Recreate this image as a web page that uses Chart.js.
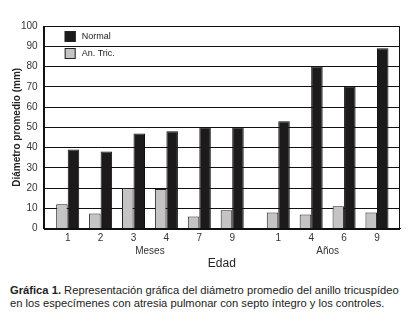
<!DOCTYPE html>
<html lang="es">
<head>
    <meta charset="UTF-8">
    <title>Diámetro promedio del anillo tricuspídeo</title>
    <script src="https://cdn.jsdelivr.net/npm/chart.js"></script>
    <style>
        body {
            margin: 0;
            background: #fff;
            font-family: "Liberation Sans", Arial, sans-serif;
        }
        #wrap {
            position: relative;
            width: 418px;
            height: 321px;
        }
        #chartBox {
            position: absolute;
            left: 0;
            top: 0;
            width: 418px;
            height: 275px;
        }
        #caption {
            position: absolute;
            left: 10px;
            top: 284px;
            width: 400px;
            font-size: 11.2px;
            line-height: 13px;
            color: #222;
        }
    </style>
</head>
<body>
<div id="wrap">
    <div id="chartBox"><canvas id="grafica"></canvas></div>
    <div id="caption"><b>Gráfica 1.</b> Representación gráfica del diámetro promedio del anillo tricuspídeo<br>en los especímenes con atresia pulmonar con septo íntegro y los controles.</div>
</div>

<script>
    // edades (etiquetas del eje x) agrupadas en meses y años
    const edadMeses = ['1', '2', '3', '4', '7', '9'];
    const edadAnos = ['1', '4', '6', '9'];
    const grupos = ['Meses', 'Años'];

    // diámetro promedio (mm)
    const normal = [39, 38, 47, 48, 50, 50, 53, 80, 70, 89];
    const anTric = [12, 7.5, 20, 19.5, 6, 9, 8, 7, 11, 8];

    const yTicks = [0, 10, 20, 30, 40, 50, 60, 70, 80, 90, 100];

    // posiciones en el eje: un hueco entre meses y años
    const hueco = 0.4;
    const etiquetas = edadMeses.concat(edadAnos);
    const posiciones = etiquetas.map((e, i) => i < edadMeses.length ? i : i + hueco);

    const puntos = serie => serie.map((v, i) => ({ x: posiciones[i], y: v }));

    const fuente = '"Liberation Sans", Arial, sans-serif';

    // borde completo del area de trazado
    const marcoPlugin = {
        id: 'marco',
        afterDatasetsDraw(chart) {
            const a = chart.chartArea;
            const ctx = chart.ctx;
            ctx.save();
            ctx.strokeStyle = '#111';
            ctx.lineWidth = 1;
            ctx.strokeRect(Math.round(a.left) + 0.5, Math.round(a.top) + 0.5,
                Math.round(a.right - a.left) - 1, Math.round(a.bottom - a.top));
            ctx.restore();
        }
    };

    // leyenda dentro del area de trazado (Normal arriba)
    const leyendaPlugin = {
        id: 'leyenda',
        afterDatasetsDraw(chart) {
            const a = chart.chartArea;
            const ctx = chart.ctx;
            const items = chart.data.datasets.slice().reverse();
            ctx.save();
            ctx.font = '9px ' + fuente;
            ctx.textBaseline = 'middle';
            items.forEach((ds, i) => {
                const x = a.left + 21;
                const y = a.top + 5 + i * 17;
                ctx.fillStyle = ds.backgroundColor;
                ctx.fillRect(x, y, 11, 11);
                ctx.strokeStyle = '#222';
                ctx.lineWidth = 1;
                ctx.strokeRect(x + 0.5, y + 0.5, 10, 10);
                ctx.fillStyle = '#222';
                ctx.fillText(ds.label, x + 17, y + 6);
            });
            ctx.restore();
        }
    };

    // etiquetas de grupo (Meses / Años) bajo las edades
    const gruposPlugin = {
        id: 'grupos',
        afterDraw(chart) {
            const xs = chart.scales.x;
            const ctx = chart.ctx;
            const rangos = [
                [posiciones[0], posiciones[edadMeses.length - 1]],
                [posiciones[edadMeses.length], posiciones[posiciones.length - 1]]
            ];
            ctx.save();
            ctx.font = '10px ' + fuente;
            ctx.fillStyle = '#333';
            ctx.textAlign = 'center';
            ctx.textBaseline = 'middle';
            rangos.forEach((r, i) => {
                const px = (xs.getPixelForValue(r[0]) + xs.getPixelForValue(r[1])) / 2;
                ctx.fillText(grupos[i], px, chart.chartArea.bottom + 23);
            });
            ctx.restore();
        }
    };

    const ctx = document.getElementById('grafica').getContext('2d');
    new Chart(ctx, {
        type: 'bar',
        data: {
            datasets: [
                {
                    label: 'An. Tric.',
                    data: puntos(anTric),
                    backgroundColor: '#c4c4c4',
                    borderColor: '#222',
                    borderWidth: 1,
                    categoryPercentage: 0.7,
                    barPercentage: 1
                },
                {
                    label: 'Normal',
                    data: puntos(normal),
                    backgroundColor: '#1c1a1b',
                    borderColor: '#111',
                    borderWidth: 1,
                    categoryPercentage: 0.7,
                    barPercentage: 1
                }
            ]
        },
        options: {
            responsive: true,
            maintainAspectRatio: false,
            animation: false,
            layout: {
                padding: { left: 6, right: 18, top: 26, bottom: 4 }
            },
            scales: {
                x: {
                    type: 'linear',
                    offset: false,
                    min: -0.73,
                    max: 10.1,
                    grid: { display: false, drawTicks: false, offset: false },
                    border: { display: true, color: '#111' },
                    afterBuildTicks(scale) {
                        scale.ticks = posiciones.map(v => ({ value: v }));
                    },
                    ticks: {
                        autoSkip: false,
                        maxRotation: 0,
                        padding: 4,
                        color: '#333',
                        font: { size: 10, family: fuente },
                        callback: (value, index) => etiquetas[index]
                    },
                    title: {
                        display: true,
                        text: 'Edad',
                        color: '#222',
                        padding: { top: 8, bottom: 0 },
                        font: { size: 12, family: fuente }
                    }
                },
                y: {
                    min: 0,
                    max: 100,
                    afterBuildTicks(scale) {
                        scale.ticks = yTicks.map(v => ({ value: v }));
                    },
                    grid: { color: '#111', lineWidth: 1, drawTicks: false },
                    border: { display: true, color: '#111' },
                    ticks: {
                        padding: 6,
                        color: '#333',
                        font: { size: 10, family: fuente }
                    },
                    title: {
                        display: true,
                        text: 'Diámetro promedio (mm)',
                        color: '#222',
                        padding: { top: 5, bottom: -8 },
                        font: { size: 10, weight: 'bold', family: fuente }
                    }
                }
            },
            plugins: {
                legend: { display: false },
                tooltip: { enabled: false }
            }
        },
        plugins: [marcoPlugin, leyendaPlugin, gruposPlugin]
    });
</script>
</body>
</html>
